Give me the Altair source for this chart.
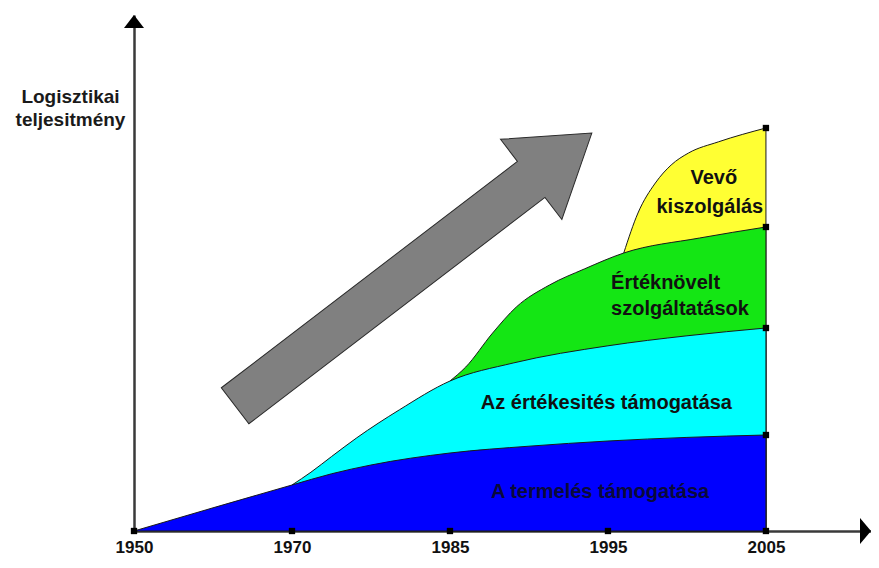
import altair as alt
import pandas as pd

# ---- data ----
years = ["1950", "1970", "1985", "1995", "2005"]
tick_pos = [0, 1, 2, 3, 4]

termeles_x = [0, 1, 1.25, 1.5, 2, 2.5, 3, 3.5, 4]
termeles_y = [0, 11.5, 14.3, 16.5, 19.5, 21.2, 22.5, 23.4, 24]

ertekesites_x = [1, 1.12, 1.25, 1.41, 1.68, 2, 2.4, 3, 3.5, 4]
ertekesites_y = [11.5, 14.7, 18.6, 23.3, 30.3, 37.5, 42, 46.3, 48.8, 50.75]

ertekn_x = [2.0, 2.1, 2.27, 2.42, 2.63, 2.85, 3.1, 3.58, 4.0]
ertekn_y = [37.5, 41, 49.5, 56, 61.5, 65.5, 69.5, 73.25, 76]

vevo_x = [3.1, 3.19, 3.3, 3.4, 3.51, 3.7, 4.0]
vevo_y = [69.5, 79.5, 87, 91.5, 94.5, 97.3, 100.75]

series = [
    ("Vevő kiszolgálás", vevo_x, vevo_y, "#FFFF33"),
    ("Értéknövelt szolgáltatások", ertekn_x, ertekn_y, "#14E614"),
    ("Az értékesités támogatása", ertekesites_x, ertekesites_y, "#00FFFF"),
    ("A termelés támogatása", termeles_x, termeles_y, "#0000FF"),
]

XMAX = 4.665
YMAX = 129
FONT2 = "Liberation Sans, Arial"

xscale = alt.Scale(domain=[0, XMAX], nice=False, zero=False)
yscale = alt.Scale(domain=[0, YMAX], nice=False)

label_expr = "[" + ",".join("'%s'" % y for y in years) + "][datum.value]"

x_axis = alt.Axis(values=tick_pos, labelExpr=label_expr, ticks=False, grid=False,
                  domain=True, domainColor="#3a3a3a", domainWidth=2.5,
                  labelFont=FONT2, labelFontSize=17, labelFontWeight="bold",
                  labelColor="#111111", labelPadding=8, labelBaseline="top",
                  labelFlush=False, labelOverlap=False, title=None)
y_axis = alt.Axis(labels=False, ticks=False, grid=False, domain=True,
                  domainColor="#3a3a3a", domainWidth=2.5,
                  title=["Logisztikai", "teljesitmény"], titleAngle=0,
                  titleAlign="center", titleBaseline="alphabetic",
                  titleX=-64, titleY=87, titleFont=FONT2, titleFontSize=19,
                  titleFontWeight="bold", titleColor="#1a1a1a",
                  titleLineHeight=23)


def X(field):
    return alt.X(field, scale=xscale, axis=x_axis)


def Y(field, **kw):
    return alt.Y(field, scale=yscale, axis=y_axis, **kw)


def XD(v):
    return alt.XDatum(v, scale=xscale, axis=x_axis)


def YD(v):
    return alt.YDatum(v, scale=yscale, axis=y_axis)


layers = []
one = pd.DataFrame({"x": [0], "y": [0]})

# grey trend arrow
arrow_shape = "M-1,-0.101L0.66,-0.101L0.66,-0.225L1,0L0.66,0.225L0.66,0.101L-1,0.101Z"
layers.append(
    alt.Chart(one).mark_point(shape=arrow_shape, filled=True, fill="#808080",
                              stroke="#2a2a2a", strokeWidth=1, opacity=1,
                              size=449 * 449, angle=322.6).encode(
        x=XD(1.769), y=YD(65.4))
)

# stacked regions (drawn back to front)
for name, xs, ys, col in series:
    df = pd.DataFrame({"x": xs, "y": ys})
    layers.append(
        alt.Chart(df).mark_area(interpolate="monotone", color=col, fill=col,
                                stroke="#1a1a1a", strokeWidth=1, opacity=1,
                                fillOpacity=1).encode(
            x=X("x:Q"), y=Y("y:Q", stack=None))
    )

# square markers on base line and on the right edge
mk = pd.DataFrame({
    "x": tick_pos + [4, 4, 4, 4],
    "y": [0] * len(tick_pos) + [termeles_y[-1], ertekesites_y[-1], ertekn_y[-1], vevo_y[-1]],
})
layers.append(
    alt.Chart(mk).mark_point(shape="square", filled=True, color="#000000",
                             size=40, opacity=1).encode(x=X("x:Q"), y=Y("y:Q"))
)

# axis arrowheads
layers.append(
    alt.Chart(one).mark_point(shape="M0,0L1,1.3L-1,1.3Z", filled=True,
                              color="#000000", size=400, opacity=1).encode(
        x=XD(0), y=YD(YMAX))
)
layers.append(
    alt.Chart(one).mark_point(shape="M0,0L-1.1,-1.3L-1.1,1.3Z", filled=True,
                              color="#000000", size=400, opacity=1).encode(
        x=XD(XMAX), y=YD(0))
)


def label(text, x, y, align="center", color="#111111"):
    return alt.Chart(one).mark_text(
        text=text, align=align, baseline="middle", font=FONT2, fontSize=20,
        fontWeight="bold", color=color).encode(x=XD(x), y=YD(y))


layers += [
    label("A termelés támogatása", 2.95, 9.75, color="#0a0a3a"),
    label("Az értékesités támogatása", 2.99, 32),
    label("Értéknövelt", 3.02, 62, align="left"),
    label("szolgáltatások", 3.02, 55.5, align="left"),
    label("Vevő", 3.67, 88.25),
    label("kiszolgálás", 3.645, 81),
]

chart = alt.layer(*layers).properties(
    width=737, height=516,
    autosize=alt.AutoSizeParams(type="none"),
    padding={"left": 126, "top": 7, "right": 0, "bottom": 29},
    background="white",
).configure_view(stroke=None)

chart.save("out.html", embed_options={"renderer": "svg", "actions": False})
